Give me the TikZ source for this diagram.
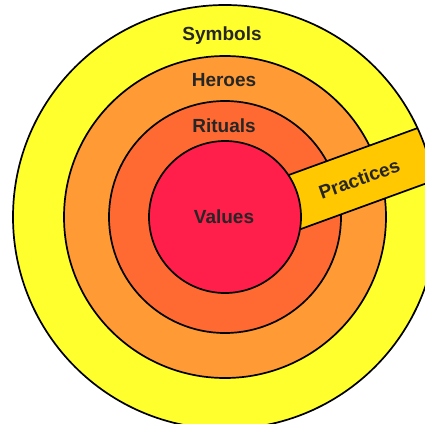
\documentclass[tikz,border=0pt]{standalone}
\usepackage{fontspec}
\setmainfont{Liberation Sans}

\definecolor{symbolscol}{HTML}{FFFF2E}
\definecolor{heroescol}{HTML}{FF9A35}
\definecolor{ritualscol}{HTML}{FF6A33}
\definecolor{valuescol}{HTML}{FF1F4A}
\definecolor{practicescol}{HTML}{FFC800}

\begin{document}
\begin{tikzpicture}[x=1pt, y=-1pt,
	ring/.style={draw=black, line width=1.7pt},
	lbl/.style={font=\bfseries\fontsize{19}{19}\selectfont, text=black!85, text height=13pt, text depth=4pt, inner sep=0pt}
	]
	\useasboundingbox (0,0) rectangle (425,423);
	\clip (0,0) rectangle (425,423);

	\coordinate (c) at (225,217);

	\fill [symbolscol] (c) circle [radius=212pt];
	\draw [ring, fill=heroescol] (c) circle [radius=161pt];
	\draw [ring, fill=ritualscol] (c) circle [radius=116pt];

	% practices band
	\begin{scope}
		\clip (c) circle [radius=212pt];
		\draw [ring, fill=practicescol] (239.0,193.1) -- (445.8,117.8) -- (464.6,169.4) -- (257.8,244.7) -- cycle;
	\end{scope}
	\draw [ring] (c) circle [radius=212pt];

	\draw [ring, fill=valuescol] (c) circle [radius=76pt];

	\node (values) [lbl] at (224,219) {Values};
		\node (rituals) [lbl] at (224,128) {Rituals};
		\node (heroes) [lbl] at (224,82) {Heroes};
		\node (symbols) [lbl] at (222,36) {Symbols};
	\node (practices) [lbl, rotate=20] at (360,181) {Practices};

\end{tikzpicture}
\end{document}
